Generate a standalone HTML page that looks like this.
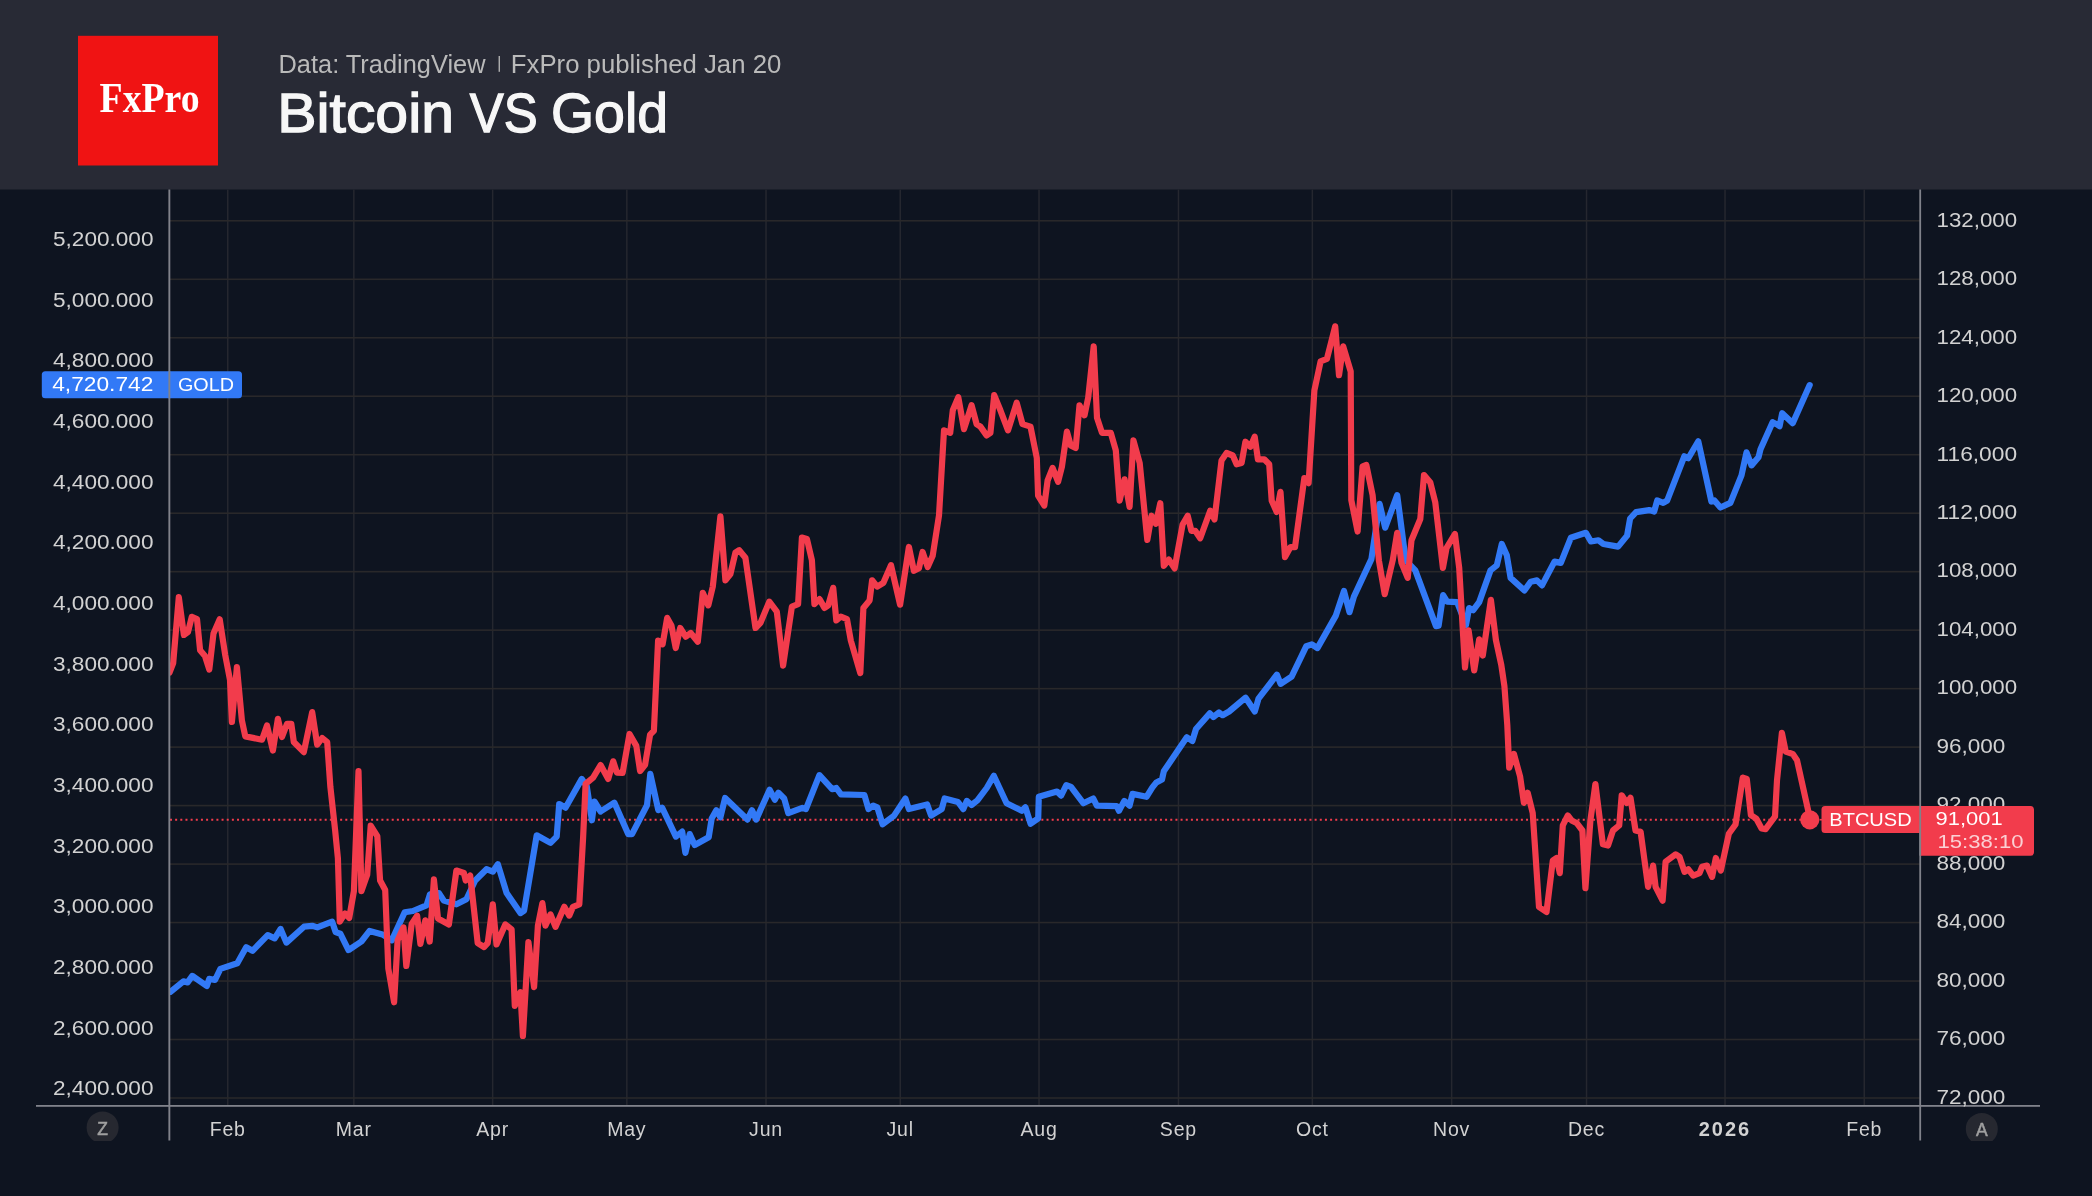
<!DOCTYPE html><html><head><meta charset="utf-8"><style>
html,body{margin:0;padding:0;background:#0e1420;width:2092px;height:1196px;overflow:hidden}
svg{display:block;will-change:transform}text{font-family:"Liberation Sans",sans-serif}
</style></head><body>
<svg width="2092" height="1196" viewBox="0 0 2092 1196">
<rect x="0" y="0" width="2092" height="1196" fill="#0e1420"/>
<rect x="0" y="0" width="2092" height="189.5" fill="#282a35"/>
<rect x="78" y="35.8" width="140" height="129.7" fill="#f01313"/>
<text x="99.6" y="111.7" font-size="41.3" font-weight="bold" fill="#fff" textLength="100" lengthAdjust="spacingAndGlyphs" style="font-family:'Liberation Serif',serif">FxPro</text>
<text x="278.5" y="72.8" font-size="26.2" fill="#bababa" textLength="207" lengthAdjust="spacingAndGlyphs">Data: TradingView</text>
<rect x="498.6" y="56" width="1.3" height="15.8" fill="#bababa"/>
<text x="510.8" y="72.8" font-size="26.2" fill="#bababa" textLength="270.5" lengthAdjust="spacingAndGlyphs">FxPro published Jan 20</text>
<text x="277.2" y="131.8" font-size="56" fill="#f7f7f7" stroke="#f7f7f7" stroke-width="1.3" textLength="176.8" lengthAdjust="spacingAndGlyphs">Bitcoin</text>
<text x="469.8" y="131.8" font-size="56" fill="#f7f7f7" stroke="#f7f7f7" stroke-width="1.3" textLength="67.9" lengthAdjust="spacingAndGlyphs">VS</text>
<text x="551" y="131.8" font-size="56" fill="#f7f7f7" stroke="#f7f7f7" stroke-width="1.3" textLength="117" lengthAdjust="spacingAndGlyphs">Gold</text>
<rect x="227.0" y="189.5" width="1.5" height="916" fill="#25272f"/>
<rect x="353.1" y="189.5" width="1.5" height="916" fill="#25272f"/>
<rect x="491.9" y="189.5" width="1.5" height="916" fill="#25272f"/>
<rect x="626.1" y="189.5" width="1.5" height="916" fill="#25272f"/>
<rect x="765.3" y="189.5" width="1.5" height="916" fill="#25272f"/>
<rect x="899.5" y="189.5" width="1.5" height="916" fill="#25272f"/>
<rect x="1038.3" y="189.5" width="1.5" height="916" fill="#25272f"/>
<rect x="1177.7" y="189.5" width="1.5" height="916" fill="#25272f"/>
<rect x="1311.6" y="189.5" width="1.5" height="916" fill="#25272f"/>
<rect x="1450.9" y="189.5" width="1.5" height="916" fill="#25272f"/>
<rect x="1585.8" y="189.5" width="1.5" height="916" fill="#25272f"/>
<rect x="1724.3" y="189.5" width="1.5" height="916" fill="#25272f"/>
<rect x="1863.5" y="189.5" width="1.5" height="916" fill="#25272f"/>
<rect x="170" y="220.00" width="1750" height="1.6" fill="#29282a"/>
<rect x="170" y="278.48" width="1750" height="1.6" fill="#29282a"/>
<rect x="170" y="336.96" width="1750" height="1.6" fill="#29282a"/>
<rect x="170" y="395.44" width="1750" height="1.6" fill="#29282a"/>
<rect x="170" y="453.92" width="1750" height="1.6" fill="#29282a"/>
<rect x="170" y="512.40" width="1750" height="1.6" fill="#29282a"/>
<rect x="170" y="570.88" width="1750" height="1.6" fill="#29282a"/>
<rect x="170" y="629.36" width="1750" height="1.6" fill="#29282a"/>
<rect x="170" y="687.84" width="1750" height="1.6" fill="#29282a"/>
<rect x="170" y="746.32" width="1750" height="1.6" fill="#29282a"/>
<rect x="170" y="804.80" width="1750" height="1.6" fill="#29282a"/>
<rect x="170" y="863.28" width="1750" height="1.6" fill="#29282a"/>
<rect x="170" y="921.76" width="1750" height="1.6" fill="#29282a"/>
<rect x="170" y="980.24" width="1750" height="1.6" fill="#29282a"/>
<rect x="170" y="1038.72" width="1750" height="1.6" fill="#29282a"/>
<rect x="170" y="1097.20" width="1750" height="1.6" fill="#29282a"/>
<line x1="170" y1="819.7" x2="1812" y2="819.7" stroke="#f23c4c" stroke-width="2" stroke-dasharray="2 3.156"/>
<clipPath id="cl"><rect x="170" y="189.5" width="1750" height="916"/></clipPath><g clip-path="url(#cl)">
<polyline points="170.5,991.8 183.4,981.3 187.6,982.4 192.3,975.9 206.8,986.0 209.2,978.9 215.0,980.0 220.4,968.9 237.3,963.2 246.2,947.3 252.5,950.8 267.7,935.1 274.7,938.4 280.6,929.0 286.4,942.6 304.0,926.7 312.2,925.8 317.3,927.4 332.1,921.6 335.6,932.1 340.3,933.7 348.5,950.1 361.4,941.5 369.6,930.9 382.4,934.4 391.8,940.3 404.7,912.2 412.9,911.0 426.5,905.4 430.0,894.3 438.8,893.0 443.8,900.6 456.4,904.3 466.4,899.3 475.2,880.5 486.5,869.2 492.8,871.7 497.8,864.2 506.6,893.0 520.4,913.1 524.1,910.6 536.7,835.3 550.5,842.9 556.7,836.6 559.2,804.0 565.5,807.7 581.8,778.9 586.8,786.4 591.9,820.3 594.4,801.5 600.6,811.5 614.4,802.7 628.2,834.1 632.0,834.1 647.0,805.2 650.3,773.9 658.3,810.2 662.1,807.7 675.9,836.6 682.2,831.6 685.4,852.9 689.7,834.1 694.7,845.0 708.7,837.2 711.7,818.4 716.3,810.2 720.4,817.3 725.1,798.0 747.4,819.6 752.0,810.2 756.1,819.6 769.6,789.8 774.9,799.7 778.4,792.7 784.2,798.5 788.3,813.2 802.4,807.9 805.9,809.1 819.4,775.1 832.2,789.2 836.3,788.0 841.0,794.4 864.4,795.0 868.5,809.1 873.2,805.6 877.3,807.3 882.6,824.3 893.7,816.1 905.4,798.5 908.9,809.1 927.1,804.4 931.1,815.5 941.7,809.1 944.6,798.5 958.0,802.0 963.3,809.1 966.8,800.9 971.5,805.0 977.4,800.3 986.7,788.0 993.8,775.7 1006.6,803.2 1021.8,810.8 1025.4,807.3 1030.6,823.7 1038.2,818.4 1038.8,796.8 1057.0,791.5 1061.1,795.6 1066.3,785.1 1071.0,786.8 1083.3,803.2 1093.3,798.5 1096.8,805.6 1116.7,806.1 1119.0,810.8 1124.3,800.9 1129.6,805.6 1132.5,793.9 1146.5,796.8 1152.4,787.4 1156.4,782.4 1162.0,779.6 1163.8,771.3 1186.8,737.3 1192.3,741.0 1196.0,729.0 1209.8,713.4 1213.4,717.0 1219.0,712.5 1222.6,715.2 1229.1,711.5 1245.6,697.7 1254.8,711.5 1258.5,698.7 1276.9,674.7 1280.6,683.9 1291.6,676.6 1306.3,646.2 1311.8,644.4 1317.4,648.1 1335.7,615.9 1344.0,591.0 1349.5,612.2 1353.9,596.6 1371.4,559.1 1379.6,503.9 1385.2,527.7 1397.2,495.1 1405.7,560.4 1415.3,570.4 1436.0,626.2 1438.6,625.7 1443.1,595.1 1447.1,601.6 1457.1,602.1 1466.0,625.0 1469.1,608.1 1473.2,610.2 1479.2,602.1 1490.5,570.4 1496.8,565.4 1501.8,544.0 1506.8,555.3 1510.6,577.9 1524.4,590.5 1530.7,581.7 1536.9,580.4 1542.0,585.4 1554.5,561.6 1560.8,562.9 1570.8,537.8 1585.9,532.8 1590.9,541.5 1598.4,540.3 1603.4,544.0 1618.1,546.6 1627.1,535.6 1630.1,518.5 1636.1,512.1 1649.2,510.1 1654.2,511.5 1657.2,500.5 1663.2,502.9 1667.2,500.5 1684.3,456.3 1688.3,458.3 1698.3,441.3 1711.4,501.5 1714.4,500.5 1720.4,507.5 1730.4,502.9 1741.5,475.4 1746.5,452.3 1751.5,465.4 1758.5,457.3 1760.5,449.3 1772.6,422.2 1776.6,424.2 1779.6,426.2 1782.2,413.2 1792.7,423.2 1809.7,385.1" fill="none" stroke="#3279f6" stroke-width="6.2" stroke-linejoin="round" stroke-linecap="round"/>
<polyline points="169.5,672.5 173.2,663.0 178.8,597.2 183.9,635.0 188.0,632.0 191.8,616.8 197.0,619.0 200.1,650.2 205.0,656.0 209.3,669.5 213.5,633.5 219.7,619.3 225.2,655.0 230.0,680.0 231.9,722.0 236.9,667.0 241.9,720.5 245.3,736.4 262.0,739.7 267.0,725.5 272.9,750.6 277.9,718.8 282.0,737.0 287.0,723.8 291.3,723.8 293.8,742.0 303.8,752.2 312.2,712.1 317.2,744.7 322.2,738.0 327.2,742.2 330.4,787.2 335.1,830.0 337.9,858.3 339.8,921.6 345.0,913.4 349.2,918.0 353.9,891.1 358.5,771.2 361.4,891.1 367.2,874.7 370.7,825.6 377.3,836.1 380.1,880.6 385.2,890.0 388.3,968.4 394.1,1002.3 397.6,940.3 403.5,927.4 406.3,966.0 411.7,923.9 417.1,915.7 420.4,943.8 425.3,920.4 429.7,941.5 433.9,879.4 438.0,918.5 448.9,924.4 456.4,870.5 463.9,873.0 465.7,880.5 470.2,875.5 477.7,943.2 484.0,947.0 487.7,943.2 492.8,904.3 496.5,944.5 505.3,924.4 511.6,929.4 514.8,1005.9 520.4,992.1 522.9,1036.0 528.4,942.0 534.1,987.1 537.9,925.6 542.4,903.1 545.4,925.6 550.5,914.4 555.5,926.9 564.3,906.8 569.3,915.6 573.0,906.8 579.3,904.3 583.1,837.8 585.6,783.9 593.1,777.6 600.6,765.1 608.2,778.9 613.2,761.3 616.9,772.6 622.6,773.0 629.5,734.0 636.3,745.9 640.1,771.0 645.1,764.7 650.1,734.6 653.9,730.8 658.1,640.5 662.6,644.3 667.2,617.9 671.4,625.4 675.7,648.0 680.2,628.0 685.7,636.7 690.7,633.0 697.8,641.7 702.8,592.8 708.3,605.4 712.8,586.6 720.4,516.3 725.4,580.3 730.4,574.0 735.4,552.7 739.2,550.2 745.4,557.7 755.5,628.0 760.5,622.9 769.3,601.6 776.8,611.6 783.1,665.6 791.9,606.6 798.1,604.1 801.9,537.6 806.9,538.9 811.9,560.2 814.4,604.1 819.5,599.1 824.5,607.9 828.2,605.4 833.2,587.8 836.3,620.4 840.8,616.7 847.0,619.2 850.8,640.5 860.3,673.1 863.4,607.9 869.6,600.4 872.1,580.3 877.2,586.6 883.4,582.8 891.0,565.2 900.1,604.7 908.9,547.0 913.9,570.8 918.9,568.3 922.6,552.0 927.7,567.1 932.7,555.8 939.0,515.6 944.0,430.4 950.2,432.9 952.8,410.3 958.3,397.2 964.0,429.1 971.6,405.3 976.6,424.1 980.4,426.6 986.6,435.4 990.4,432.9 994.2,395.2 1000.4,410.3 1008.0,430.4 1016.7,402.8 1022.5,424.1 1030.5,426.6 1036.8,458.0 1038.1,495.6 1044.3,505.6 1047.6,480.5 1052.6,468.0 1058.1,481.8 1061.9,466.7 1066.9,431.6 1070.7,445.4 1075.7,447.9 1079.5,405.3 1084.5,415.3 1088.2,397.7 1093.7,346.3 1097.0,417.8 1102.0,432.9 1110.8,432.9 1115.8,450.4 1119.6,500.6 1124.6,479.3 1129.6,506.9 1133.4,440.4 1139.7,463.0 1147.3,540.0 1151.5,515.7 1155.8,523.8 1160.3,503.2 1163.8,565.9 1168.9,559.6 1174.6,568.4 1182.6,524.5 1187.7,515.7 1191.4,530.8 1195.2,530.8 1200.2,538.3 1210.2,510.7 1214.5,519.5 1221.5,460.5 1226.6,453.0 1232.8,455.5 1236.6,464.3 1241.6,463.0 1245.4,441.7 1250.4,446.7 1254.7,436.7 1257.9,459.3 1264.2,459.3 1269.2,464.3 1271.7,500.7 1276.7,512.0 1280.5,491.9 1285.0,557.1 1290.5,547.1 1295.0,547.1 1304.3,478.1 1308.6,483.1 1314.4,390.3 1320.6,361.4 1326.9,358.9 1335.2,326.3 1339.0,375.2 1343.2,346.4 1350.7,371.5 1351.3,500.1 1357.6,531.5 1362.6,466.3 1366.3,465.0 1372.6,495.1 1378.9,560.4 1384.7,594.2 1392.7,560.4 1397.2,532.8 1401.5,562.9 1407.7,577.9 1411.5,540.3 1420.3,519.0 1424.0,475.0 1430.3,482.6 1435.3,502.6 1442.9,567.9 1446.6,547.8 1454.9,534.0 1459.2,567.9 1465.0,667.5 1468.6,630.4 1474.2,670.5 1479.2,639.3 1482.8,655.5 1490.9,599.8 1495.9,640.0 1501.3,665.0 1504.4,686.0 1507.3,725.0 1509.2,767.7 1513.9,753.9 1520.1,776.5 1523.9,802.9 1527.7,792.8 1532.7,812.9 1539.0,907.0 1546.5,912.0 1552.8,860.6 1556.5,858.0 1559.8,873.1 1562.8,825.4 1567.8,815.4 1571.6,820.4 1576.6,822.9 1582.4,830.5 1585.4,888.2 1590.4,820.4 1595.4,784.0 1602.9,844.3 1608.0,845.5 1613.0,830.5 1619.2,825.4 1621.7,795.3 1626.8,802.9 1630.5,797.8 1635.5,830.5 1640.6,831.7 1648.1,886.9 1653.1,865.6 1655.6,886.9 1662.6,900.7 1665.6,861.8 1675.7,854.3 1679.5,856.8 1684.5,871.9 1688.2,869.3 1693.2,875.6 1699.5,873.1 1702.0,866.8 1707.0,865.6 1712.1,876.9 1715.8,858.0 1720.8,870.6 1728.8,833.8 1735.5,824.5 1742.8,777.6 1746.8,779.0 1750.9,815.1 1756.2,818.5 1761.6,828.5 1765.6,829.2 1775.0,816.5 1777.0,780.3 1781.9,732.8 1785.7,751.5 1793.0,754.2 1797.0,760.2 1809.8,817.8" fill="none" stroke="#f23c4c" stroke-width="6.2" stroke-linejoin="round" stroke-linecap="round"/>
</g>
<circle cx="1809.8" cy="819.8" r="9.6" fill="#f23c4c"/>
<rect x="36" y="1105" width="2004" height="1.8" fill="#80828a"/>
<rect x="168.4" y="189.5" width="1.9" height="951" fill="#80828a"/>
<rect x="1919.3" y="189.5" width="1.8" height="951" fill="#80828a"/>
<text x="53" y="245.9" font-size="19.5" fill="#d2d2d2" textLength="100.5" lengthAdjust="spacingAndGlyphs">5,200.000</text>
<text x="53" y="306.6" font-size="19.5" fill="#d2d2d2" textLength="100.5" lengthAdjust="spacingAndGlyphs">5,000.000</text>
<text x="53" y="367.2" font-size="19.5" fill="#d2d2d2" textLength="100.5" lengthAdjust="spacingAndGlyphs">4,800.000</text>
<text x="53" y="427.9" font-size="19.5" fill="#d2d2d2" textLength="100.5" lengthAdjust="spacingAndGlyphs">4,600.000</text>
<text x="53" y="488.5" font-size="19.5" fill="#d2d2d2" textLength="100.5" lengthAdjust="spacingAndGlyphs">4,400.000</text>
<text x="53" y="549.2" font-size="19.5" fill="#d2d2d2" textLength="100.5" lengthAdjust="spacingAndGlyphs">4,200.000</text>
<text x="53" y="609.9" font-size="19.5" fill="#d2d2d2" textLength="100.5" lengthAdjust="spacingAndGlyphs">4,000.000</text>
<text x="53" y="670.5" font-size="19.5" fill="#d2d2d2" textLength="100.5" lengthAdjust="spacingAndGlyphs">3,800.000</text>
<text x="53" y="731.2" font-size="19.5" fill="#d2d2d2" textLength="100.5" lengthAdjust="spacingAndGlyphs">3,600.000</text>
<text x="53" y="791.8" font-size="19.5" fill="#d2d2d2" textLength="100.5" lengthAdjust="spacingAndGlyphs">3,400.000</text>
<text x="53" y="852.5" font-size="19.5" fill="#d2d2d2" textLength="100.5" lengthAdjust="spacingAndGlyphs">3,200.000</text>
<text x="53" y="913.2" font-size="19.5" fill="#d2d2d2" textLength="100.5" lengthAdjust="spacingAndGlyphs">3,000.000</text>
<text x="53" y="973.8" font-size="19.5" fill="#d2d2d2" textLength="100.5" lengthAdjust="spacingAndGlyphs">2,800.000</text>
<text x="53" y="1034.5" font-size="19.5" fill="#d2d2d2" textLength="100.5" lengthAdjust="spacingAndGlyphs">2,600.000</text>
<text x="53" y="1095.1" font-size="19.5" fill="#d2d2d2" textLength="100.5" lengthAdjust="spacingAndGlyphs">2,400.000</text>
<text x="1936.5" y="226.5" font-size="19.5" fill="#d2d2d2" textLength="80.6" lengthAdjust="spacingAndGlyphs">132,000</text>
<text x="1936.5" y="285.0" font-size="19.5" fill="#d2d2d2" textLength="80.6" lengthAdjust="spacingAndGlyphs">128,000</text>
<text x="1936.5" y="343.5" font-size="19.5" fill="#d2d2d2" textLength="80.6" lengthAdjust="spacingAndGlyphs">124,000</text>
<text x="1936.5" y="402.0" font-size="19.5" fill="#d2d2d2" textLength="80.6" lengthAdjust="spacingAndGlyphs">120,000</text>
<text x="1936.5" y="460.5" font-size="19.5" fill="#d2d2d2" textLength="80.6" lengthAdjust="spacingAndGlyphs">116,000</text>
<text x="1936.5" y="519.0" font-size="19.5" fill="#d2d2d2" textLength="80.6" lengthAdjust="spacingAndGlyphs">112,000</text>
<text x="1936.5" y="577.4" font-size="19.5" fill="#d2d2d2" textLength="80.6" lengthAdjust="spacingAndGlyphs">108,000</text>
<text x="1936.5" y="635.9" font-size="19.5" fill="#d2d2d2" textLength="80.6" lengthAdjust="spacingAndGlyphs">104,000</text>
<text x="1936.5" y="694.4" font-size="19.5" fill="#d2d2d2" textLength="80.6" lengthAdjust="spacingAndGlyphs">100,000</text>
<text x="1936.5" y="752.9" font-size="19.5" fill="#d2d2d2" textLength="68.9" lengthAdjust="spacingAndGlyphs">96,000</text>
<text x="1936.5" y="811.4" font-size="19.5" fill="#d2d2d2" textLength="68.9" lengthAdjust="spacingAndGlyphs">92,000</text>
<text x="1936.5" y="869.9" font-size="19.5" fill="#d2d2d2" textLength="68.9" lengthAdjust="spacingAndGlyphs">88,000</text>
<text x="1936.5" y="928.4" font-size="19.5" fill="#d2d2d2" textLength="68.9" lengthAdjust="spacingAndGlyphs">84,000</text>
<text x="1936.5" y="986.9" font-size="19.5" fill="#d2d2d2" textLength="68.9" lengthAdjust="spacingAndGlyphs">80,000</text>
<text x="1936.5" y="1045.4" font-size="19.5" fill="#d2d2d2" textLength="68.9" lengthAdjust="spacingAndGlyphs">76,000</text>
<text x="1936.5" y="1103.8" font-size="19.5" fill="#d2d2d2" textLength="68.9" lengthAdjust="spacingAndGlyphs">72,000</text>
<text x="227.7" y="1136.2" font-size="19.5" fill="#d2d2d2" text-anchor="middle" letter-spacing="0.8">Feb</text>
<text x="353.8" y="1136.2" font-size="19.5" fill="#d2d2d2" text-anchor="middle" letter-spacing="0.8">Mar</text>
<text x="492.6" y="1136.2" font-size="19.5" fill="#d2d2d2" text-anchor="middle" letter-spacing="0.8">Apr</text>
<text x="626.8" y="1136.2" font-size="19.5" fill="#d2d2d2" text-anchor="middle" letter-spacing="0.8">May</text>
<text x="766.0" y="1136.2" font-size="19.5" fill="#d2d2d2" text-anchor="middle" letter-spacing="0.8">Jun</text>
<text x="900.2" y="1136.2" font-size="19.5" fill="#d2d2d2" text-anchor="middle" letter-spacing="0.8">Jul</text>
<text x="1039.0" y="1136.2" font-size="19.5" fill="#d2d2d2" text-anchor="middle" letter-spacing="0.8">Aug</text>
<text x="1178.4" y="1136.2" font-size="19.5" fill="#d2d2d2" text-anchor="middle" letter-spacing="0.8">Sep</text>
<text x="1312.3" y="1136.2" font-size="19.5" fill="#d2d2d2" text-anchor="middle" letter-spacing="0.8">Oct</text>
<text x="1451.6" y="1136.2" font-size="19.5" fill="#d2d2d2" text-anchor="middle" letter-spacing="0.8">Nov</text>
<text x="1586.5" y="1136.2" font-size="19.5" fill="#d2d2d2" text-anchor="middle" letter-spacing="0.8">Dec</text>
<text x="1725.0" y="1136.2" font-size="20" font-weight="bold" fill="#d2d2d2" text-anchor="middle" letter-spacing="2">2026</text>
<text x="1864.2" y="1136.2" font-size="19.5" fill="#d2d2d2" text-anchor="middle" letter-spacing="0.8">Feb</text>
<clipPath id="cb"><rect x="0" y="1106" width="2092" height="35"/></clipPath>
<g clip-path="url(#cb)"><circle cx="102.6" cy="1127.4" r="16" fill="#262830"/><circle cx="1981.8" cy="1128.9" r="16" fill="#262830"/></g>
<text x="102.6" y="1134.9" font-size="17.5" fill="#a0a0a0" stroke="#a0a0a0" stroke-width="0.5" text-anchor="middle">Z</text>
<text x="1981.8" y="1135.5" font-size="17.5" fill="#a0a0a0" stroke="#a0a0a0" stroke-width="0.5" text-anchor="middle">A</text>
<rect x="41.8" y="371.2" width="200.2" height="27.1" rx="3.5" fill="#3279f6"/>
<rect x="168.4" y="371.2" width="1.9" height="27.1" fill="#80828a"/>
<text x="52.2" y="390.6" font-size="19.5" fill="#fff" textLength="101.2" lengthAdjust="spacingAndGlyphs">4,720.742</text>
<text x="178" y="390.8" font-size="19" fill="#fff" textLength="56" lengthAdjust="spacingAndGlyphs">GOLD</text>
<rect x="1819.7" y="818.9" width="3" height="1.6" fill="#f23c4c"/>
<path d="M1921,806.1 H1825 a3.5,3.5 0 0 0 -3.5,3.5 V829.5 a3.5,3.5 0 0 0 3.5,3.5 H1921 Z" fill="#f23c4c"/>
<path d="M1920,806.1 H2030.5 a3.5,3.5 0 0 1 3.5,3.5 V852.2 a3.5,3.5 0 0 1 -3.5,3.5 H1920 Z" fill="#f23c4c"/>
<rect x="1919.3" y="806.1" width="1.8" height="49.6" fill="#80828a"/>
<text x="1829.3" y="826.4" font-size="18" fill="#fff" textLength="82.4" lengthAdjust="spacingAndGlyphs">BTCUSD</text>
<text x="1935.6" y="825.3" font-size="18.5" fill="#fff" textLength="67" lengthAdjust="spacingAndGlyphs">91,001</text>
<text x="1937.4" y="848" font-size="18.5" fill="#fbd0d4" textLength="86.1" lengthAdjust="spacingAndGlyphs">15:38:10</text>
</svg></body></html>
